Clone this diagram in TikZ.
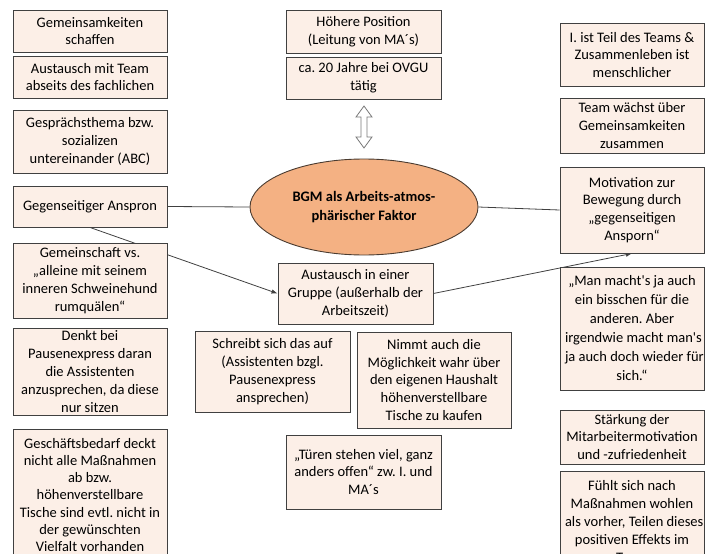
\documentclass[tikz,border=0pt]{standalone}
\usepackage{fontspec}
\setmainfont{Carlito}
\usetikzlibrary{shapes.geometric,arrows.meta,backgrounds}

\definecolor{boxfill}{HTML}{FCEFE7}
\definecolor{boxline}{HTML}{404040}
\definecolor{bgmfill}{HTML}{F4B183}
\definecolor{bgmline}{HTML}{4A3B30}

\newcommand{\longline}[1]{\makebox[134pt][l]{#1}}

\tikzset{
  infobox/.style={draw=boxline, fill=boxfill, line width=0.9pt, align=center,
    inner xsep=4pt, inner ysep=0pt, font=\frenchspacing\fontsize{14.5}{17.8}\selectfont},
  leftcol/.style={infobox, minimum width=154pt},
  midcol/.style={infobox, minimum width=155pt},
  rightcol/.style={infobox, minimum width=144pt},
  link/.style={draw=boxline, line width=0.8pt},
  tip/.style={-{Latex[length=6pt,width=4.5pt]}}
}

\begin{document}
\begin{tikzpicture}[x=1pt, y=-1pt]
\useasboundingbox (0,0) rectangle (705,554);
\clip (0,0) rectangle (705,554);

% left column
\node[leftcol, minimum height=42pt] (gemein) at (90,31) {Gemeinsamkeiten\\schaffen};
\node[leftcol, minimum height=42pt] (austeam) at (90,77) {Austausch mit Team\\abseits des fachlichen};
\node[leftcol, minimum height=63pt] (gespr) at (90,141.5) {Gesprächsthema bzw.\\sozializen\\untereinander (ABC)};
\node[leftcol, minimum height=41pt] (anspron) at (90,206.5) {Gegenseitiger Anspron};
\node[leftcol, minimum height=75pt] (gemschaft) at (90,280.5) {Gemeinschaft vs.\\„alleine mit seinem\\inneren Schweinehund\\rumquälen“};
\node[leftcol, minimum height=87pt] (denkt) at (90,371.5) {Denkt bei\\Pausenexpress daran\\die Assistenten\\anzusprechen, da diese\\nur sitzen};
\node[leftcol, minimum height=132pt, font=\frenchspacing\fontsize{14.5}{17.2}\selectfont] (bedarf) at (90,495)
  {Geschäftsbedarf deckt\\nicht alle Maßnahmen\\ab bzw.\\höhenverstellbare\\Tische sind evtl. nicht in\\der gewünschten\\Vielfalt vorhanden};

% middle
\node[midcol, minimum height=43pt] (position) at (363.5,31.5) {Höhere Position\\(Leitung von MA´s)};
\node[midcol, minimum height=42pt] (jahre) at (363.5,78) {ca. 20 Jahre bei OVGU\\tätig};
\draw[boxline!70, fill=white, line width=0.8pt] (364,106) -- (372,117) -- (367,117) -- (367,137) -- (372,137)
  -- (364,148) -- (356,137) -- (361,137) -- (361,117) -- (356,117) -- cycle;
\node[ellipse, draw=bgmline, fill=bgmfill, line width=0.9pt, minimum width=228pt, minimum height=96pt,
  inner sep=0pt, align=center, font=\bfseries\fontsize{14.5}{19.5}\selectfont] (bgm) at (364,207)
  {BGM als Arbeits-atmos-\\phärischer Faktor};
\node[midcol, minimum height=61pt] (gruppe) at (355.5,293.5) {Austausch in einer\\Gruppe (außerhalb der\\Arbeitszeit)};
\node[midcol, minimum height=81pt] (schreibt) at (272.5,371.5) {Schreibt sich das auf\\(Assistenten bzgl.\\Pausenexpress\\ansprechen)};
\node[leftcol, minimum height=96pt] (nimmt) at (434,380) {Nimmt auch die\\Möglichkeit wahr über\\den eigenen Haushalt\\höhenverstellbare\\Tische zu kaufen};
\node[midcol, minimum height=74pt] (tueren) at (363.5,472) {„Türen stehen viel, ganz\\anders offen“ zw. I. und\\MA´s};

% right column
\node[rightcol, minimum height=63pt] (teil) at (632,55) {I. ist Teil des Teams \&\\Zusammenleben ist\\menschlicher};
\node[rightcol, minimum height=55pt] (waechst) at (632,125.5) {Team wächst über\\Gemeinsamkeiten\\zusammen};
\node[rightcol, minimum height=86pt] (motiv) at (632,210) {Motivation zur\\Bewegung durch\\„gegenseitigen\\Ansporn“};
\node[rightcol, minimum height=123pt, font=\frenchspacing\fontsize{14.5}{19}\selectfont] (macht) at (632,328.5)
  {„Man macht\textquotesingle s ja auch\\ein bisschen für die\\anderen. Aber\\\longline{irgendwie macht man\textquotesingle s}\\\longline{ja auch doch wieder für}\\sich.“};
\node[rightcol, minimum height=54pt] (staerkung) at (632,437) {Stärkung der\\Mitarbeitermotivation\\und -zufriedenheit};
\node[rightcol, minimum height=101pt] (fuehlt) at (632,521.5) {Fühlt sich nach\\Maßnahmen wohlen\\\longline{als vorher, Teilen dieses}\\positiven Effekts im\\Team};

% connectors
\begin{scope}[on background layer]
\draw[link] (anspron.east) -- (bgm.west);
\draw[link] (bgm.east) -- (motiv.west);
\draw[link, tip] (anspron.south) -- (gruppe.west);
\draw[link, tip] (gruppe.east) -- (motiv.south);
\end{scope}
\end{tikzpicture}
\end{document}
